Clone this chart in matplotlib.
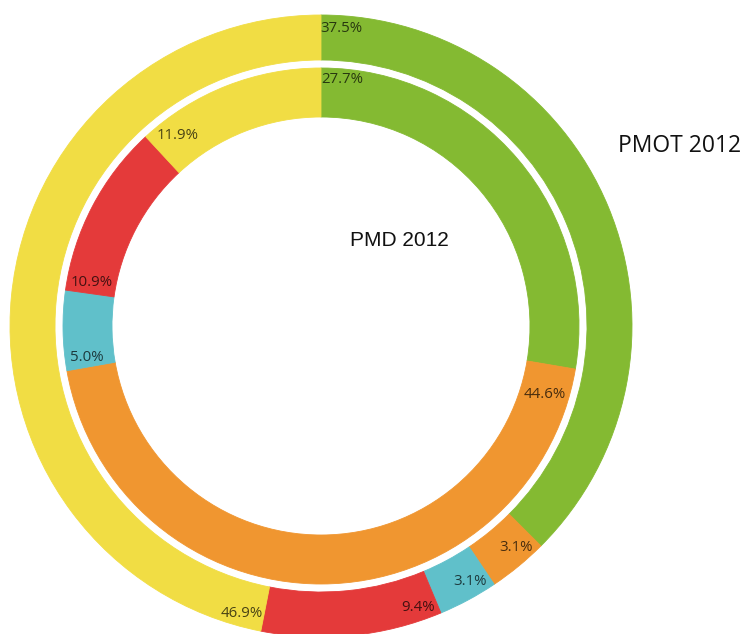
import matplotlib.pyplot as plt
import matplotlib.colors as mcolors
import numpy as np

# segment order: clockwise from 12 o'clock
seg_colors = ["#84BA32", "#F09630", "#60C0CA", "#E43A3A", "#F1DD44"]

outer_name = "PMOT 2012"
outer_values = [37.5, 3.1, 3.1, 9.4, 46.9]
outer_labels = ["37.5%", "3.1%", "3.1%", "9.4%", "46.9%"]

inner_name = "PMD 2012"
inner_values = [27.7, 44.6, 5.0, 10.9, 11.9]
inner_labels = ["27.7%", "44.6%", "5.0%", "10.9%", "11.9%"]

W, H = 745, 634
CX, CY = 321, H - 326          # ring centre in pixel units (y up)
R_OUT, W_OUT = 311, 45
R_IN, W_IN = 258, 49

# label placement: (degrees past segment start, radius)
outer_label_pos = [(3.9, 298), (3.6, 295), (3.6, 296), (3.7, 298), (4.2, 298)]
inner_label_pos = [(4.9, 247), (7.4, 234), (2.2, 236), (2.8, 233), (5.9, 238)]

fig = plt.figure(figsize=(W / 100, H / 100), dpi=100)
ax = fig.add_axes([0, 0, 1, 1])

wedge_kw = dict(linewidth=0.6, antialiased=True)
outer_w, _ = ax.pie(outer_values, radius=R_OUT, center=(CX, CY), startangle=90,
                    counterclock=False, colors=seg_colors,
                    wedgeprops=dict(width=W_OUT, **wedge_kw))
inner_w, _ = ax.pie(inner_values, radius=R_IN, center=(CX, CY), startangle=90,
                    counterclock=False, colors=seg_colors,
                    wedgeprops=dict(width=W_IN, **wedge_kw))
for w in list(outer_w) + list(inner_w):
    w.set_edgecolor(w.get_facecolor())

ax.set_xlim(0, W)
ax.set_ylim(0, H)
ax.set_aspect("equal")
ax.axis("off")


def put_labels(values, labels, placement):
    total = float(sum(values))
    start = 0.0
    for v, lab, col, (shift, r) in zip(values, labels, seg_colors, placement):
        ang = np.deg2rad(90 - 360 * start / total - shift)
        rgb = np.array(mcolors.to_rgb(col)) * 0.3
        ax.text(CX + r * np.cos(ang), CY + r * np.sin(ang), lab,
                ha="center", va="center", fontsize=10.8, color=rgb,
                family=["Open Sans", "DejaVu Sans"])
        start += v


put_labels(outer_values, outer_labels, outer_label_pos)
put_labels(inner_values, inner_labels, inner_label_pos)

ax.text(680, H - 146, outer_name, ha="center", va="center", fontsize=16.5,
        color="#111111", family=["Open Sans", "DejaVu Sans"])
ax.text(399, H - 241, inner_name, ha="center", va="center", fontsize=15,
        color="#111111", family=["Liberation Sans", "DejaVu Sans"])

fig.savefig("out.png", dpi=100)
